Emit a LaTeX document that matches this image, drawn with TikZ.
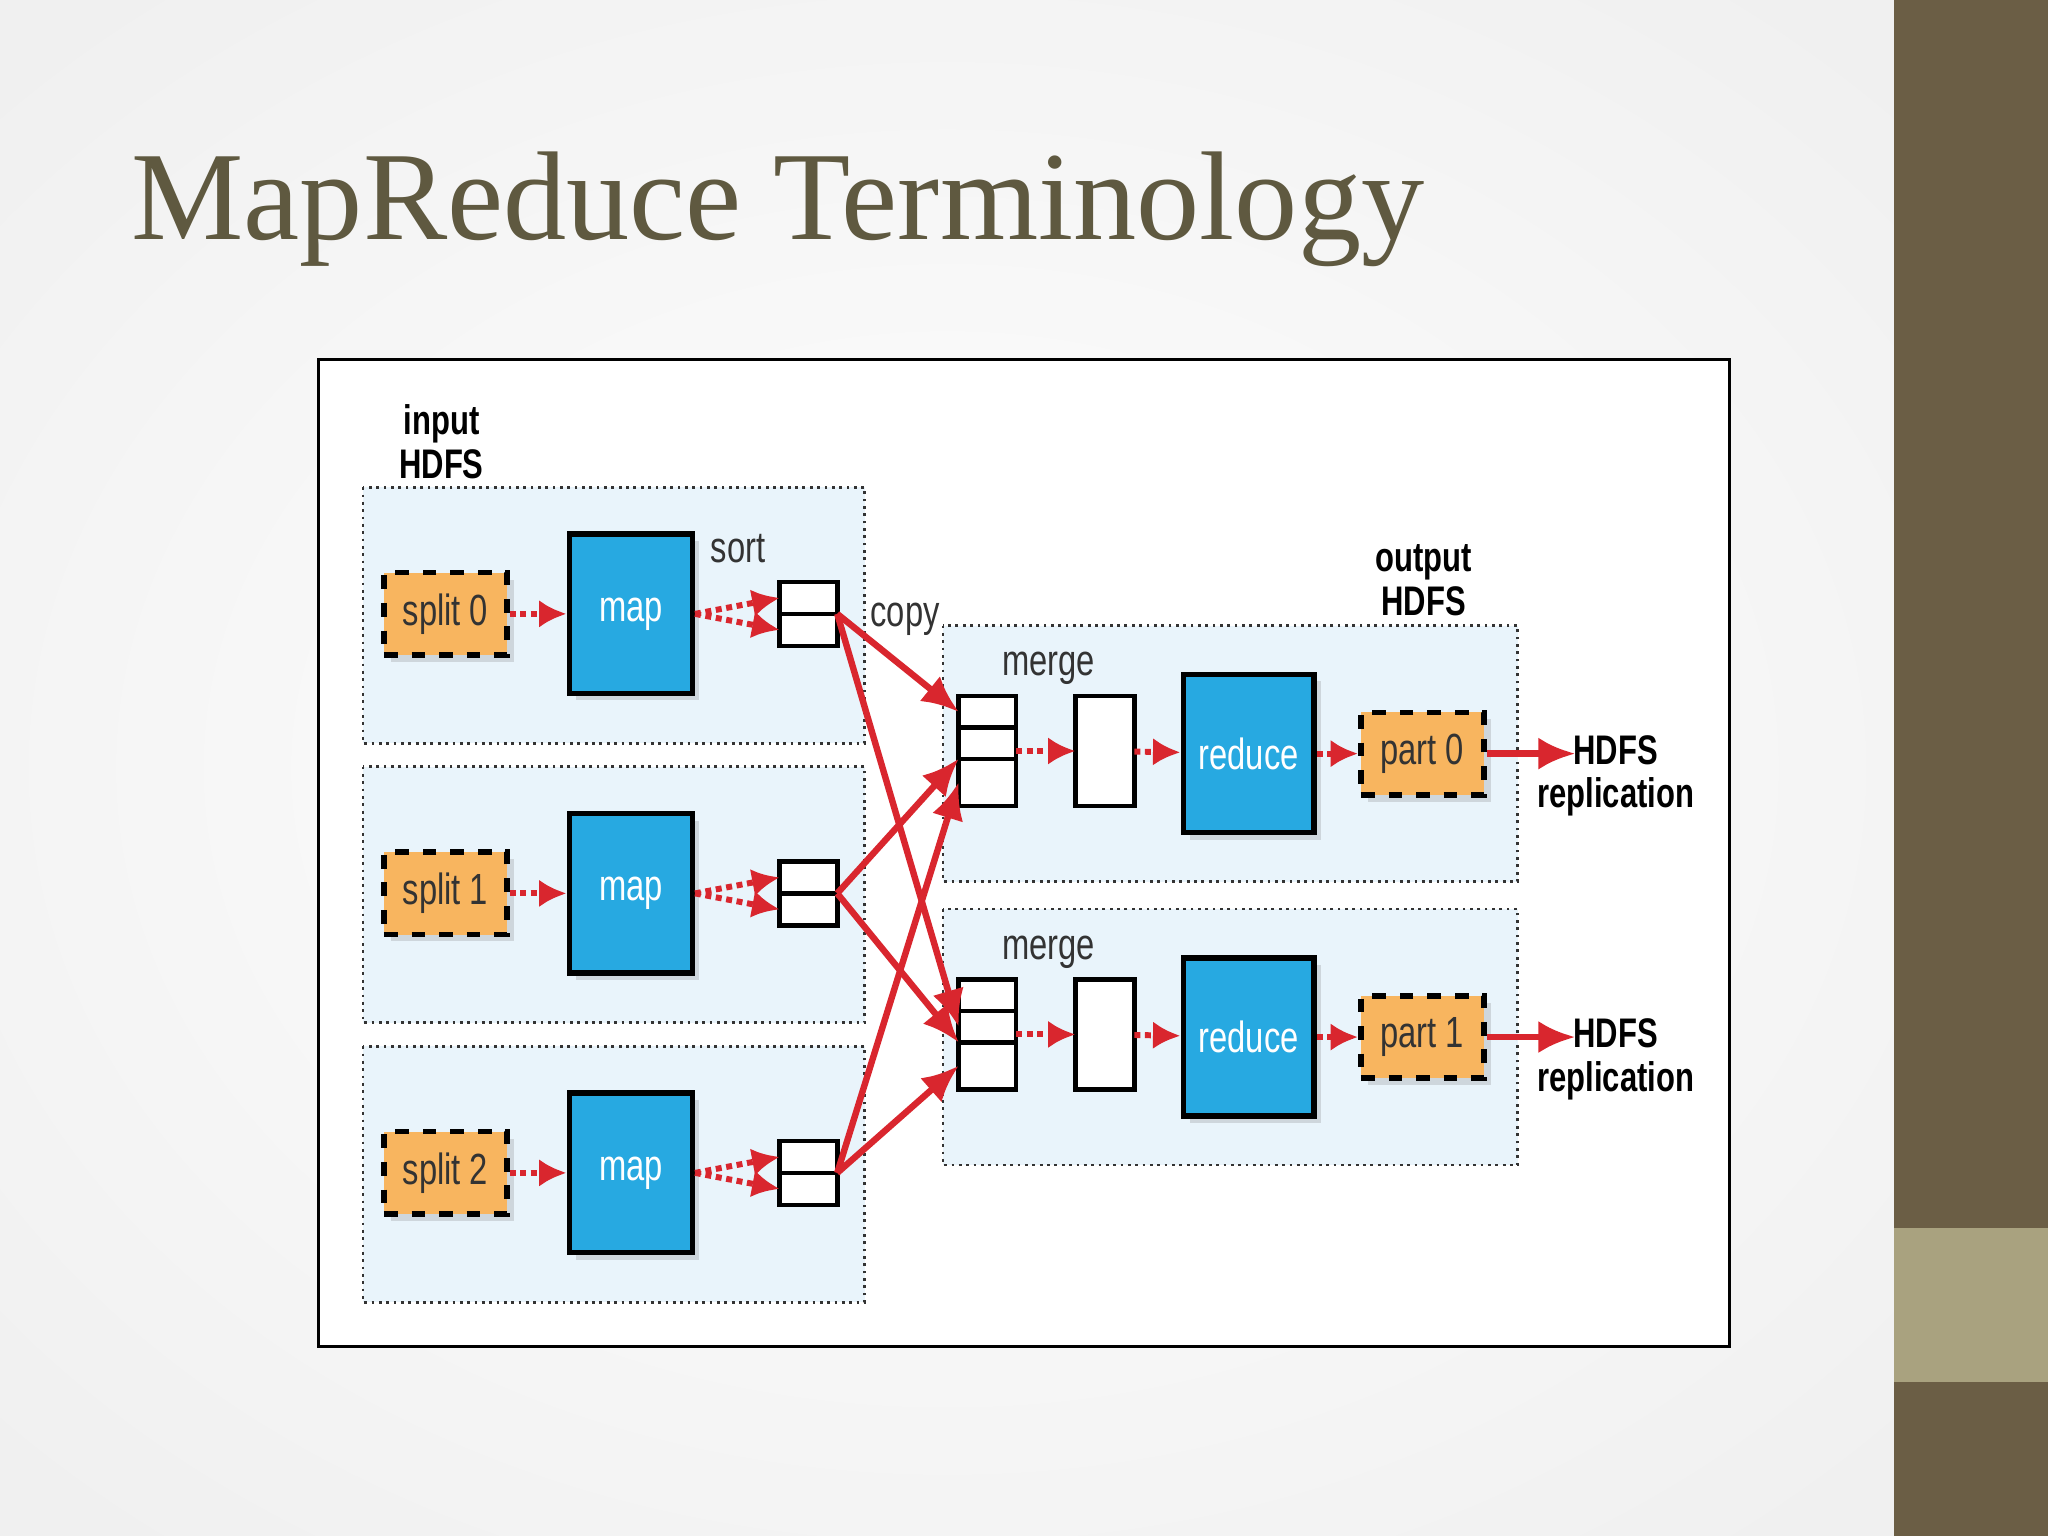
\documentclass[tikz,border=0pt]{standalone}
\usepackage{fontspec}
\setmainfont{Liberation Serif}
\newfontfamily\cond{Liberation Sans}[FakeStretch=0.75]
\usetikzlibrary{arrows.meta,shadows}
\definecolor{bar}{HTML}{6B5E45}
\definecolor{barlight}{HTML}{A9A27F}
\definecolor{titlec}{HTML}{5F5940}
\definecolor{inbg}{HTML}{E9F4FB}
\definecolor{orng}{HTML}{F8B55F}
\definecolor{blu}{HTML}{27A9E1}
\definecolor{rd}{HTML}{D9262E}
\tikzset{
  box/.style={draw=black!80,densely dotted,fill=inbg,line width=0.6pt},
  split/.style={draw=black,dashed,line width=1.2pt,fill=orng,minimum width=0.94cm,minimum height=0.63cm,font=\cond\fontsize{9.5}{11}\selectfont,text=black!80,drop shadow={opacity=0.25,shadow xshift=1.5pt,shadow yshift=-1.5pt}},
  mapb/.style={draw=black,line width=1.2pt,fill=blu,minimum width=0.94cm,font=\cond\fontsize{9.5}{11}\selectfont,text=white,drop shadow={opacity=0.25,shadow xshift=1.5pt,shadow yshift=-1.5pt}},
  cell/.style={draw=black,line width=1pt,fill=white,minimum width=0.44cm,inner sep=0pt,outer sep=0pt},
  dot/.style={rd,densely dotted,line width=1.3pt,-{Latex[length=6pt,width=6pt]}},
  cp/.style={rd,line width=1.4pt,-{Latex[length=8pt,width=7pt]}},
  lbl/.style={font=\cond\fontsize{9.5}{11}\selectfont,text=black!80},
  blbl/.style={font=\cond\bfseries\fontsize{9}{9.5}\selectfont,text=black,align=center,inner sep=0pt}
}
\begin{document}
\begin{tikzpicture}[x=0.01cm,y=-0.01cm]
\useasboundingbox (0,0) rectangle (1568,1176);
\shade[inner color=white,outer color=black!6] (-300,-200) rectangle (1750,1376);
\fill[bar] (1450,0) rectangle (1568,1176);
\fill[barlight] (1450,940) rectangle (1568,1058);
\node[anchor=base west,text=titlec,font=\fontsize{27.5}{30}\selectfont,inner sep=0pt] (title) at (100,183) {MapReduce Terminology};
\draw[fill=white,line width=0.6pt] (244,275) rectangle (1324,1031);
% input boxes
\foreach \y/\i in {470/0,684/1,898/2}{
  \draw[box] (278,\y-97) rectangle (662,\y+99);
  \node[split] (s\i) at (341,\y) {split \i};
  \node[mapb,minimum height=1.22cm] (m\i) at (483,\y) {map};
  \node[cell,minimum height=0.245cm,anchor=south] (a\i) at (619,\y) {};
  \node[cell,minimum height=0.245cm,anchor=north] (b\i) at (619,\y) {};
  \draw[dot] (m\i.east) -- (a\i.west);
  \draw[dot] (m\i.east) -- (b\i.west);
  \draw[dot] (s\i) -- (m\i);
}
\node[blbl] (inl) at (338,338) {input\\HDFS};
\node[lbl] (sortl) at (565,420) {sort};
\node[lbl] (copyl) at (693,474) {copy};
% output boxes
\foreach \y/\i in {575/0,792/1}{
  \draw[box] (722,\y-96) rectangle (1162,\y+100);
  \node[cell,minimum height=0.24cm,anchor=south] (p\i) at (756,\y-18) {};
  \node[cell,minimum height=0.24cm,anchor=north] (q\i) at (756,\y-18) {};
  \node[cell,minimum height=0.36cm,anchor=north] (r\i) at (756,\y+6) {};
  \node[cell,minimum height=0.84cm,minimum width=0.45cm] (w\i) at (846,\y) {};
  \node[mapb,minimum height=1.21cm] (rd\i) at (956,\y+2) {reduce};
  \node[split] (pt\i) at (1089,\y+2) {part \i};
  \node[lbl] at (803,\y-63) {merge};
  \node[blbl] (h\i) at (1237,\y+19) {HDFS\\replication};
  \coordinate (hc\i) at (1206,\y+2);
  \draw[dot] (r\i.east|-w\i) -- (w\i);
  \draw[dot] (w\i) -- (rd\i);
  \draw[dot] (rd\i) -- (pt\i);
  \draw[cp] (pt\i) -- (hc\i);
}
\node[blbl] (outl) at (1090,444) {output\\HDFS};
% copy arrows
\draw[cp] (b0.north east) -- (p0.west);
\draw[cp] (b0.north east) -- (q1.west);
\draw[cp] (b1.north east) -- (q0.south west);
\draw[cp] (b1.north east) -- (q1.south west);
\draw[cp] (b2.north east) -- (r0.west);
\draw[cp] (b2.north east) -- (r1.west);
\end{tikzpicture}
\end{document}
